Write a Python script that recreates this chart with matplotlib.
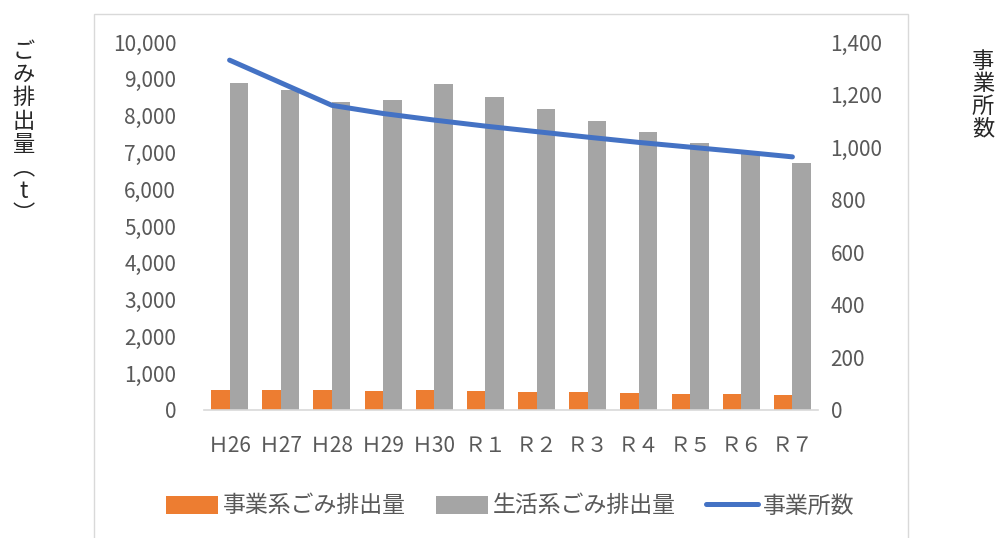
import matplotlib
matplotlib.use("Agg")
import matplotlib.pyplot as plt
import numpy as np
from matplotlib.patches import Rectangle
from matplotlib.ticker import FuncFormatter, MultipleLocator

plt.rcParams['font.family'] = ['Noto Sans CJK JP', 'DejaVu Sans']

categories = ["Ｈ26", "Ｈ27", "Ｈ28", "Ｈ29", "Ｈ30", "Ｒ１", "Ｒ２", "Ｒ３", "Ｒ４", "Ｒ５", "Ｒ６", "Ｒ７"]
business_waste = [543, 535, 535, 525, 543, 525, 498, 480, 462, 435, 426, 408]
household_waste = [8880, 8690, 8370, 8425, 8850, 8495, 8170, 7855, 7545, 7245, 6990, 6705]
num_businesses = [1331, 1245, 1159, 1128, 1103, 1080, 1059, 1038, 1018, 1000, 982, 963]

ORANGE = "#ED7D31"
GRAY = "#A5A5A5"
BLUE = "#4472C4"
TXT = "#595959"

W, H = 999, 538
fig = plt.figure(figsize=(W / 100, H / 100), dpi=100)
fig.patches.append(Rectangle((94 / W, -0.02), 814 / W, (538 - 14) / H + 0.02,
                             transform=fig.transFigure, fill=False,
                             edgecolor="#d9d9d9", linewidth=1.0))

ax = fig.add_axes([204 / W, 1 - 410 / H, (818 - 204) / W, (410 - 42) / H])
x = np.arange(len(categories))
bw = 0.36
ax.bar(x - bw / 2, business_waste, width=bw, color=ORANGE, label="事業系ごみ排出量", zorder=2)
ax.bar(x + bw / 2, household_waste, width=bw, color=GRAY, label="生活系ごみ排出量", zorder=2)
ax.set_xlim(-0.5, len(categories) - 0.5)
ax.set_ylim(0, 10000)
ax.yaxis.set_major_locator(MultipleLocator(1000))
ax.yaxis.set_major_formatter(FuncFormatter(lambda v, p: f"{int(v):,}"))
ax.set_xticks(x)
ax.set_xticklabels(categories)
ax.tick_params(axis='y', length=0, pad=20, labelsize=15, labelcolor=TXT)
ax.tick_params(axis='x', length=0, pad=18, labelsize=15, labelcolor=TXT)
for s in ["top", "right", "left"]:
    ax.spines[s].set_visible(False)
ax.spines["bottom"].set_color("#d9d9d9")
ax.spines["bottom"].set_linewidth(1.2)

ax2 = ax.twinx()
ax2.plot(x, num_businesses, color=BLUE, linewidth=3.6, solid_capstyle='round',
         solid_joinstyle='round', label="事業所数", zorder=3)
ax2.set_ylim(0, 1400)
ax2.yaxis.set_major_locator(MultipleLocator(200))
ax2.yaxis.set_major_formatter(FuncFormatter(lambda v, p: f"{int(v):,}"))
ax2.tick_params(axis='y', length=0, pad=9, labelsize=15, labelcolor=TXT)
for s in ["top", "right", "left", "bottom"]:
    ax2.spines[s].set_visible(False)

fig.text(24 / W, 1 - 133 / H, "\n".join("ごみ排出量︵t︶"), ha="center", va="center",
         fontsize=16, color="#262626", linespacing=1.02)
fig.text(983 / W, 1 - 95 / H, "\n".join("事業所数"), ha="center", va="center",
         fontsize=16, color="#262626", linespacing=0.98)

h1, l1 = ax.get_legend_handles_labels()
h2, l2 = ax2.get_legend_handles_labels()
fig.legend(h1 + h2, l1 + l2, loc="center", bbox_to_anchor=(510 / W, 1 - 506 / H),
           ncol=3, frameon=False, fontsize=16.5, labelcolor=TXT,
           handlelength=2.3, handleheight=0.83, handletextpad=0.2, columnspacing=1.3)

fig.savefig("out.png", dpi=100)
